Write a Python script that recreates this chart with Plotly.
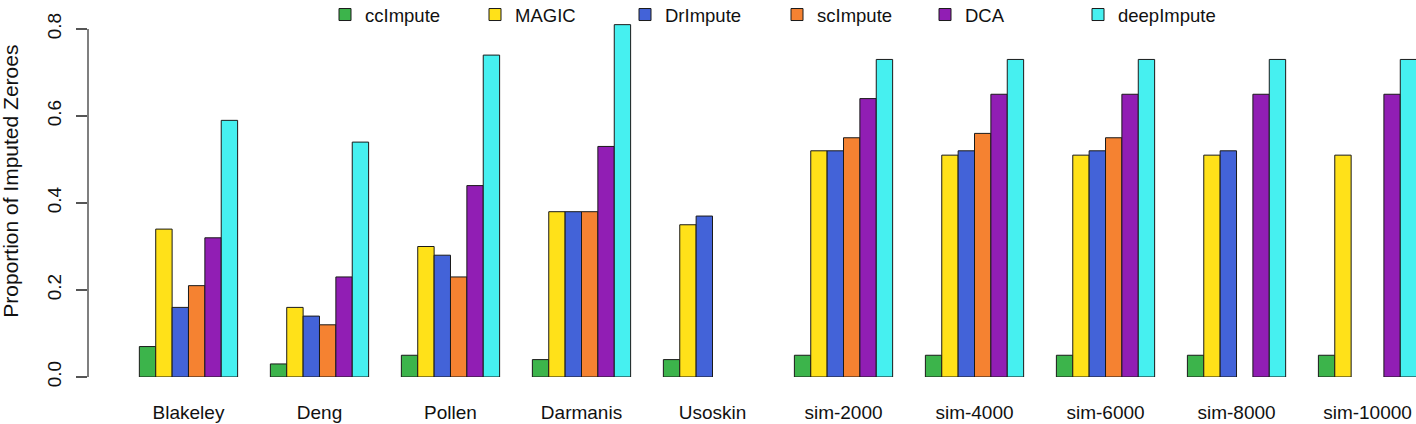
import plotly.graph_objects as go

datasets = ["Blakeley", "Deng", "Pollen", "Darmanis", "Usoskin",
            "sim-2000", "sim-4000", "sim-6000", "sim-8000", "sim-10000"]
methods = ["ccImpute", "MAGIC", "DrImpute", "scImpute", "DCA", "deepImpute"]

ccImpute   = [0.07, 0.03, 0.05, 0.04, 0.04, 0.05, 0.05, 0.05, 0.05, 0.05]
MAGIC      = [0.34, 0.16, 0.30, 0.38, 0.35, 0.52, 0.51, 0.51, 0.51, 0.51]
DrImpute   = [0.16, 0.14, 0.28, 0.38, 0.37, 0.52, 0.52, 0.52, 0.52, None]
scImpute   = [0.21, 0.12, 0.23, 0.38, None, 0.55, 0.56, 0.55, None, None]
DCA        = [0.32, 0.23, 0.44, 0.53, None, 0.64, 0.65, 0.65, 0.65, 0.65]
deepImpute = [0.59, 0.54, 0.74, 0.81, None, 0.73, 0.73, 0.73, 0.73, 0.73]

series = [ccImpute, MAGIC, DrImpute, scImpute, DCA, deepImpute]
colors = ["#3cb44b", "#ffe119", "#4363d8", "#f58231", "#911eb4", "#46f0f0"]

yticks = [0.0, 0.2, 0.4, 0.6, 0.8]
ytick_text = ["0.0", "0.2", "0.4", "0.6", "0.8"]

# legend box centres (px from left) as in the reference layout
legend_centres = [345, 495, 645, 797, 945, 1098]

FONT = "Liberation Sans, Arial, Helvetica, sans-serif"

fig = go.Figure()
legend_layouts = {}
for i, (name, vals, col) in enumerate(zip(methods, series, colors)):
    lname = "legend" if i == 0 else f"legend{i + 1}"
    fig.add_trace(go.Bar(
        x=datasets, y=vals, name=name, legend=lname,
        marker=dict(color=col, line=dict(color="#1a1a1a", width=1)),
    ))
    legend_layouts[lname] = dict(
        orientation="h",
        xref="container", x=(legend_centres[i] - 20) / 1416, xanchor="left",
        yref="container", y=(424 - 15) / 424, yanchor="middle",
        font=dict(size=18.5, family=FONT, color="#111"),
        bgcolor="rgba(0,0,0,0)", borderwidth=0,
    )

fig.update_layout(
    width=1416, height=424,
    margin=dict(l=88, r=0, t=20, b=47, autoexpand=False),
    paper_bgcolor="white", plot_bgcolor="white",
    barmode="group", bargap=0.25, bargroupgap=0,
    font=dict(family=FONT, color="#111", size=19),
    showlegend=True,
    xaxis=dict(
        type="category", range=[-0.767, 9.370], automargin=False,
        showline=False, showgrid=False, zeroline=False,
        ticks="outside", ticklen=18, tickcolor="rgba(0,0,0,0)",
        tickfont=dict(size=19, family=FONT, color="#111"),
    ),
    yaxis=dict(
        range=[0, 357 / 435], automargin=False,
        showgrid=False, zeroline=False, showline=False,
        tickmode="array", tickvals=yticks, ticktext=ytick_text,
        ticks="outside", ticklen=11, tickwidth=1.5, tickcolor="#555",
        ticklabelstandoff=7,
        tickangle=-90, tickfont=dict(size=19, family=FONT, color="#111"),
    ),
    shapes=[dict(type="line", xref="paper", yref="y", x0=0, x1=0,
                 y0=yticks[0], y1=yticks[-1],
                 line=dict(color="#555", width=1.5))],
    annotations=[dict(text="Proportion of Imputed Zeroes", textangle=-90,
                      xref="paper", yref="paper", x=(11 - 88) / 1328, y=0.547,
                      xanchor="center", yanchor="middle", showarrow=False,
                      font=dict(size=21, family=FONT, color="#111"))],
    **legend_layouts,
)

fig.write_html("out.html", config={"displayModeBar": False},
               post_script="document.body.style.margin='0';document.body.style.padding='0';")
